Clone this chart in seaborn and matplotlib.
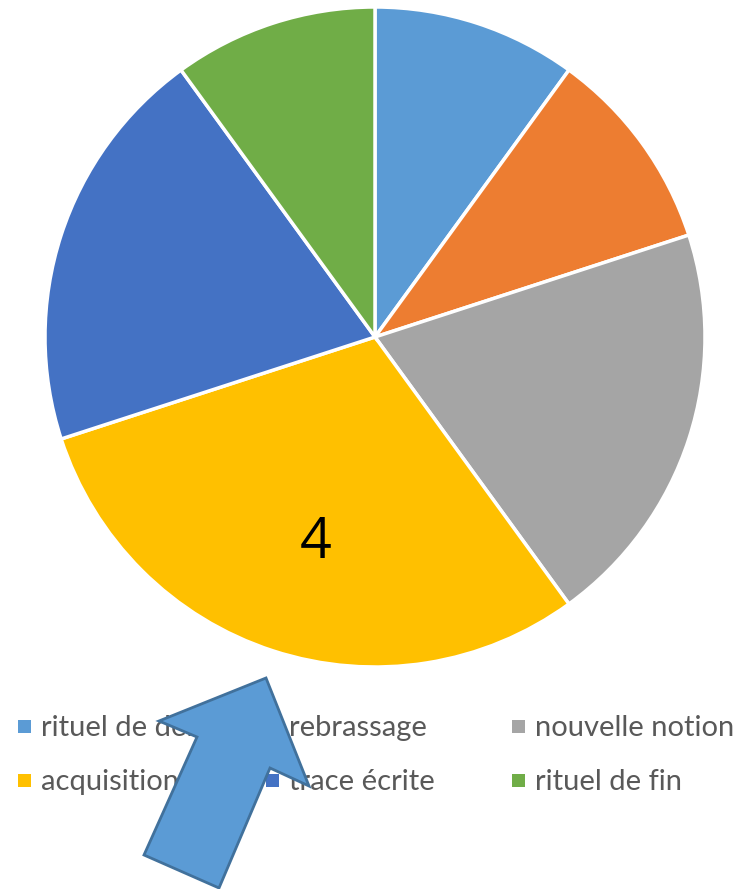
import numpy as np
import matplotlib.pyplot as plt
import matplotlib.patches as mpatches
import seaborn as sns

# data
steps = ["rituel de début", "rebrassage", "nouvelle notion",
         "acquisition", "trace écrite", "rituel de fin"]
durations = [1, 1, 2, 3, 2, 1]
colors = ["#5B9BD5", "#ED7D31", "#A5A5A5", "#FFC000", "#4472C4", "#70AD47"]
slice_label = "4"

sns.set_theme(style="white")
plt.rcParams['font.family'] = ['Lato', 'DejaVu Sans']

W, H = 743, 889
fig = plt.figure(figsize=(W / 100, H / 100), dpi=100)

# pie axes: center (375, 337) px, radius 330 px
cx, cy, r, pad = 375, 337, 330, 12
ax = fig.add_axes([(cx - r - pad) / W, (H - cy - r - pad) / H,
                   2 * (r + pad) / W, 2 * (r + pad) / H])
ax.pie(durations, colors=sns.color_palette(colors), startangle=90,
       counterclock=False, radius=1,
       wedgeprops=dict(edgecolor="white", linewidth=2.5))
lim = (r + pad) / r
ax.set_xlim(-lim, lim)
ax.set_ylim(-lim, lim)
ax.set_aspect("equal")
ax.axis("off")

# label inside the yellow slice
fig.text(316 / W, 1 - 544 / H, slice_label, fontsize=40, color="black",
         ha="center", va="center", family=["Open Sans", "DejaVu Sans"])

# legend (3 columns, 2 rows)
col_x = [18, 266, 512]
row_y = [727, 781]
for i, (name, c) in enumerate(zip(steps, colors)):
    x0 = col_x[i % 3]
    y0 = row_y[i // 3]
    fig.patches.append(mpatches.Rectangle(
        (x0 / W, 1 - (y0 + 6) / H), 13 / W, 13 / H,
        transform=fig.transFigure, facecolor=c, edgecolor="none"))
    fig.text((x0 + 23) / W, 1 - (y0 + 1) / H, name, fontsize=21, color="#595959",
             ha="left", va="center")

# big arrow drawn over the legend
arrow_px = [(266, 678), (309, 786), (270, 768), (219, 888),
            (144, 855), (197, 737), (159, 721)]
arrow = mpatches.Polygon([(x / W, 1 - y / H) for x, y in arrow_px], closed=True,
                         transform=fig.transFigure, facecolor="#5B9BD5",
                         edgecolor="#41719C", linewidth=2, zorder=10)
fig.patches.append(arrow)

fig.savefig("out.png", dpi=100)
